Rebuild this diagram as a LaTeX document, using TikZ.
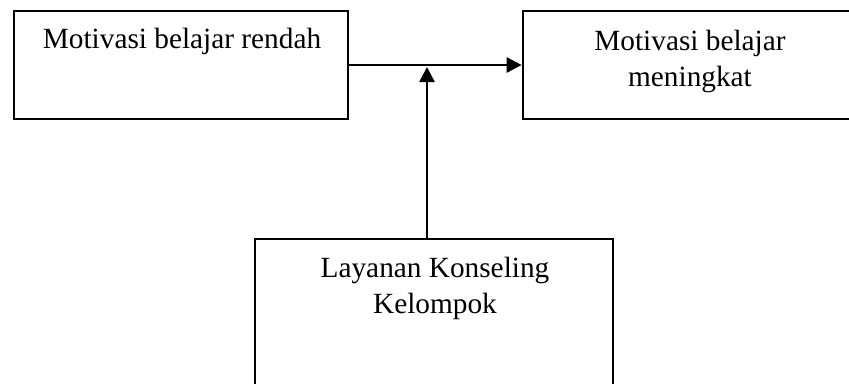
\documentclass[tikz,border=0pt]{standalone}
\usepackage{fontspec}
\setmainfont{Liberation Serif}
\usetikzlibrary{arrows.meta,calc}
\begin{document}
\begin{tikzpicture}[x=1pt,y=-1pt,
  box/.style={draw=black,line width=2.6pt,rectangle,inner sep=0pt},
  txt/.style={inner sep=0pt,anchor=base,align=center,font=\fontsize{29.3}{35.5}\selectfont},
  conn/.style={line width=2.6pt,-{Triangle[length=15pt,width=15pt]}}]
\useasboundingbox (0,0) rectangle (849,383);
\clip (0,0) rectangle (849,383);
\fill[white] (0,0) rectangle (849,383);
\node[box,minimum width=334pt,minimum height=108pt] (left) at (181,65) {};
\node[box,minimum width=334pt,minimum height=108pt] (right) at (690,65) {};
\node[box,minimum width=358pt,minimum height=170pt] (bot) at (434,324) {};
\node[txt] (lefttxt) at (182,48) {Motivasi belajar rendah};
\node[txt] (righttxt) at (690,86) {Motivasi belajar\\meningkat};
\node[txt] (bottxt) at (435,313) {Layanan Konseling\\Kelompok};
\coordinate (j) at (427,65);
\draw[conn] (left.east) -- (right.west);
\draw[conn] (j |- bot.north) -- ($(j)+(0,2)$);
\end{tikzpicture}
\end{document}
